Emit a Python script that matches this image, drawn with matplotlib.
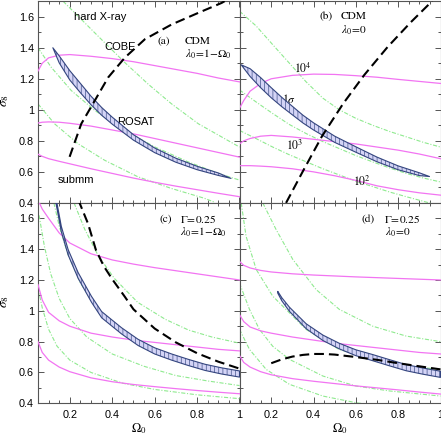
import matplotlib
matplotlib.use('Agg')
import matplotlib.pyplot as plt
import numpy as np
from matplotlib.ticker import MultipleLocator, FuncFormatter

plt.rcParams['font.family'] = ['Liberation Sans', 'DejaVu Sans']
plt.rcParams['mathtext.fontset'] = 'stix'
plt.rcParams['hatch.linewidth'] = 0.45
plt.rcParams['lines.scale_dashes'] = False

# ---------------- data ----------------
om_m = [0.05, 0.07, 0.1, 0.15, 0.2, 0.3, 0.4, 0.5, 0.6, 0.7, 0.8, 0.9, 1.0]

# panel (a) CDM, lambda0 = 1 - Omega0
a_mag1 = [1.25, 1.30, 1.335, 1.352, 1.356, 1.345, 1.33, 1.31, 1.285, 1.26, 1.235, 1.205, 1.18]
a_mag2 = [0.915, 0.92, 0.922, 0.92, 0.913, 0.895, 0.87, 0.845, 0.815, 0.785, 0.755, 0.725, 0.695]
a_mag3 = [0.714, 0.70, 0.685, 0.668, 0.652, 0.62, 0.59, 0.56, 0.533, 0.508, 0.485, 0.462, 0.44]
a_g1_x = [0.168, 0.254, 0.356, 0.459, 0.569, 0.68, 0.806, 0.916, 1.0]
a_g1_y = [1.70, 1.583, 1.444, 1.305, 1.166, 1.038, 0.91, 0.825, 0.76]
a_g2_x = [0.05, 0.113, 0.207, 0.318, 0.444, 0.6, 0.757, 0.9, 1.0]
a_g2_y = [1.40, 1.273, 1.124, 0.996, 0.878, 0.761, 0.665, 0.59, 0.547]
a_g3_x = [0.05, 0.128, 0.238, 0.364, 0.52, 0.677, 0.834, 0.88]
a_g3_y = [1.038, 0.91, 0.782, 0.675, 0.569, 0.494, 0.43, 0.406]
a_band_x = [0.12, 0.15, 0.2, 0.25, 0.3, 0.35, 0.4, 0.5, 0.6, 0.7, 0.8, 0.9, 0.96]
a_band_c = [1.40, 1.325, 1.222, 1.14, 1.06, 0.99, 0.93, 0.822, 0.739, 0.675, 0.625, 0.585, 0.558]
a_band_w = [0.0, 0.045, 0.06, 0.06, 0.055, 0.05, 0.045, 0.035, 0.03, 0.026, 0.022, 0.016, 0.0]
a_cobe_x = [0.199, 0.254, 0.318, 0.381, 0.46, 0.554, 0.68, 0.806, 0.916, 0.93]
a_cobe_y = [0.697, 0.91, 1.06, 1.209, 1.337, 1.455, 1.55, 1.625, 1.689, 1.70]

# panel (b) CDM, lambda0 = 0
b_mag1 = [1.01, 1.06, 1.12, 1.17, 1.20, 1.222, 1.23, 1.228, 1.22, 1.21, 1.196, 1.183, 1.17]
b_mag2 = [0.78, 0.80, 0.815, 0.83, 0.835, 0.825, 0.81, 0.795, 0.78, 0.76, 0.74, 0.715, 0.685]
b_mag3 = [0.64, 0.64, 0.64, 0.637, 0.633, 0.62, 0.60, 0.575, 0.545, 0.51, 0.485, 0.465, 0.45]
b_g_x = [0.05, 0.129, 0.207, 0.286, 0.365, 0.444, 0.522, 0.6, 0.68, 0.76, 0.838, 0.92, 1.0]
b_g1_y = [1.636, 1.54, 1.42, 1.30, 1.18, 1.075, 1.0, 0.945, 0.90, 0.86, 0.826, 0.79, 0.76]
b_g2_y = [1.128, 1.05, 0.976, 0.905, 0.847, 0.795, 0.75, 0.705, 0.664, 0.625, 0.59, 0.56, 0.535]
b_g3_y = [0.867, 0.814, 0.76, 0.71, 0.665, 0.62, 0.58, 0.54, 0.505, 0.47, 0.44, 0.41, 0.38]
b_band_x = [0.058, 0.1, 0.15, 0.2, 0.25, 0.3, 0.35, 0.4, 0.5, 0.6, 0.7, 0.8, 0.9, 0.948]
b_band_c = [1.29, 1.24, 1.175, 1.11, 1.05, 0.995, 0.94, 0.893, 0.81, 0.744, 0.68, 0.626, 0.585, 0.57]
b_band_w = [0.0, 0.05, 0.065, 0.065, 0.06, 0.055, 0.05, 0.046, 0.04, 0.035, 0.03, 0.025, 0.018, 0.0]
b_cobe_x = [0.27, 0.35, 0.44, 0.54, 0.64, 0.75, 0.86, 0.96]
b_cobe_y = [0.40, 0.605, 0.83, 1.04, 1.225, 1.405, 1.565, 1.70]

# panel (c) Gamma = 0.25, lambda0 = 1 - Omega0
c_mag1 = [1.72, 1.66, 1.60, 1.505, 1.44, 1.37, 1.33, 1.303, 1.28, 1.26, 1.24, 1.22, 1.20]
c_mag2 = [1.17, 1.07, 0.99, 0.935, 0.90, 0.855, 0.83, 0.81, 0.795, 0.78, 0.765, 0.75, 0.74]
c_mag3 = [0.80, 0.73, 0.68, 0.635, 0.605, 0.565, 0.54, 0.522, 0.508, 0.495, 0.483, 0.472, 0.462]
c_g1_x = [0.22, 0.27, 0.333, 0.41, 0.52, 0.65, 0.76, 0.87, 1.0]
c_g1_y = [1.70, 1.53, 1.36, 1.21, 1.055, 0.945, 0.875, 0.83, 0.79]
c_g2_x = [0.125, 0.15, 0.19, 0.25, 0.32, 0.42, 0.55, 0.7, 0.85, 1.0]
c_g2_y = [1.70, 1.55, 1.37, 1.18, 1.03, 0.88, 0.76, 0.68, 0.63, 0.59]
c_g3_x = [0.055, 0.08, 0.11, 0.15, 0.2, 0.28, 0.4, 0.55, 0.7, 0.85, 1.0]
c_g3_y = [1.62, 1.42, 1.24, 1.08, 0.95, 0.83, 0.72, 0.64, 0.58, 0.545, 0.515]
c_g4_x = [0.05, 0.07, 0.1, 0.14, 0.2, 0.3, 0.45, 0.6, 0.8, 1.0]
c_g4_y = [1.15, 1.02, 0.88, 0.77, 0.68, 0.6, 0.53, 0.49, 0.455, 0.43]
c_band_x = [0.13, 0.16, 0.192, 0.239, 0.302, 0.35, 0.444, 0.522, 0.6, 0.68, 0.759, 0.838, 0.916, 1.0]
c_band_c = [1.75, 1.53, 1.38, 1.23, 1.075, 0.975, 0.87, 0.795, 0.74, 0.70, 0.665, 0.633, 0.61, 0.59]
c_band_w = [0.035, 0.035, 0.035, 0.037, 0.038, 0.04, 0.04, 0.04, 0.04, 0.04, 0.04, 0.04, 0.04, 0.04]
c_cobe_x = [0.24, 0.286, 0.323, 0.36, 0.40, 0.46, 0.5, 0.6, 0.7, 0.8, 0.9, 1.0]
c_cobe_y = [1.72, 1.565, 1.395, 1.29, 1.205, 1.09, 1.01, 0.885, 0.795, 0.725, 0.67, 0.625]

# panel (d) Gamma = 0.25, lambda0 = 0
d_mag1 = [1.32, 1.295, 1.278, 1.262, 1.252, 1.24, 1.232, 1.226, 1.22, 1.215, 1.21, 1.205, 1.20]
d_mag2 = [0.975, 0.93, 0.895, 0.87, 0.855, 0.83, 0.81, 0.79, 0.775, 0.76, 0.745, 0.73, 0.72]
d_mag3 = [0.71, 0.665, 0.635, 0.605, 0.585, 0.56, 0.543, 0.528, 0.513, 0.5, 0.487, 0.473, 0.46]
d_g1_x = [0.16, 0.223, 0.302, 0.412, 0.522, 0.68, 0.838, 1.0]
d_g1_y = [1.70, 1.527, 1.333, 1.138, 1.009, 0.90, 0.836, 0.80]
d_g2_x = [0.058, 0.081, 0.129, 0.207, 0.286, 0.365, 0.52, 0.68, 0.838, 1.0]
d_g2_y = [1.70, 1.484, 1.268, 1.095, 0.987, 0.879, 0.75, 0.685, 0.642, 0.62]
d_g3_x = [0.05, 0.097, 0.144, 0.207, 0.286, 0.444, 0.6, 0.76, 1.0]
d_g3_y = [1.18, 1.01, 0.88, 0.77, 0.685, 0.577, 0.512, 0.48, 0.447]
d_g4_x = [0.05, 0.097, 0.176, 0.286, 0.444, 0.6, 0.7]
d_g4_y = [0.88, 0.75, 0.62, 0.523, 0.447, 0.404, 0.385]
d_band_x = [0.231, 0.25, 0.286, 0.365, 0.444, 0.522, 0.6, 0.68, 0.759, 0.838, 0.916, 1.0]
d_band_c = [1.12, 1.075, 1.01, 0.90, 0.825, 0.771, 0.728, 0.696, 0.663, 0.631, 0.609, 0.588]
d_band_w = [0.012, 0.02, 0.027, 0.032, 0.035, 0.036, 0.038, 0.04, 0.04, 0.04, 0.04, 0.04]
d_cobe_x = [0.2, 0.25, 0.3, 0.35, 0.4, 0.45, 0.5, 0.6, 0.7, 0.8, 0.9, 1.0]
d_cobe_y = [0.66, 0.685, 0.703, 0.714, 0.72, 0.72, 0.716, 0.70, 0.682, 0.66, 0.64, 0.62]

# ---------------- styles ----------------
MAG = '#f274f2'
GRN = '#8fea8f'
BAND_FC = '#d4d4f6'
BAND_EC = '#34457f'

W, H = 441.0, 436.0
fig = plt.figure(figsize=(W / 100, H / 100), dpi=100)


def add(x0, y0, x1, y1):
    return fig.add_axes([x0 / W, 1 - y1 / H, (x1 - x0) / W, (y1 - y0) / H])


ax_a = add(38, 1.2, 239.5, 202.9)
ax_b = add(239.5, 1.2, 440.5, 202.9)
ax_c = add(38, 202.9, 239.5, 403.3)
ax_d = add(239.5, 202.9, 440.5, 403.3)

fmt = FuncFormatter(lambda v, p: f'{v:g}')

for ax in (ax_a, ax_b, ax_c, ax_d):
    ax.set_xlim(0.05, 1.0)
    ax.set_ylim(0.4, 1.7)
    ax.xaxis.set_major_locator(MultipleLocator(0.2))
    ax.xaxis.set_minor_locator(MultipleLocator(0.05))
    ax.yaxis.set_major_locator(MultipleLocator(0.2))
    ax.yaxis.set_minor_locator(MultipleLocator(0.1))
    ax.xaxis.set_major_formatter(fmt)
    ax.yaxis.set_major_formatter(fmt)
    ax.tick_params(which='both', direction='in', top=True, right=True,
                   color='#555555', width=0.7, labelsize=7.8)
    ax.tick_params(which='major', length=4.5)
    ax.tick_params(which='minor', length=2.5)
    ax.tick_params(axis='y', pad=3)
    ax.tick_params(axis='x', pad=5)
    for s in ax.spines.values():
        s.set_color('#555555')
        s.set_linewidth(0.8)

for ax in (ax_a, ax_b):
    ax.tick_params(labelbottom=False)
for ax in (ax_b, ax_d):
    ax.tick_params(labelleft=False)


def green(ax, x, y):
    ax.plot(x, y, color=GRN, lw=0.8, ls=(0, (3, 1.2, 0.8, 1.2)), zorder=2)


def mag(ax, y):
    ax.plot(om_m, y, color=MAG, lw=0.9, zorder=3)


def band(ax, x, c, w):
    x = np.asarray(x); c = np.asarray(c); w = np.asarray(w)
    ax.fill_between(x, c - w / 2, c + w / 2, facecolor=BAND_FC, edgecolor=BAND_EC,
                    hatch='||||', linewidth=0.8, zorder=4)


def cobe(ax, x, y):
    ax.plot(x, y, color='black', lw=1.5, ls=(0, (7, 3.6)), zorder=5)


# panel (a)
green(ax_a, a_g1_x, a_g1_y); green(ax_a, a_g2_x, a_g2_y); green(ax_a, a_g3_x, a_g3_y)
for y in (a_mag1, a_mag2, a_mag3):
    mag(ax_a, y)
band(ax_a, a_band_x, a_band_c, a_band_w)
cobe(ax_a, a_cobe_x, a_cobe_y)

# panel (b)
for y in (b_g1_y, b_g2_y, b_g3_y):
    green(ax_b, b_g_x, y)
for y in (b_mag1, b_mag2, b_mag3):
    mag(ax_b, y)
band(ax_b, b_band_x, b_band_c, b_band_w)
cobe(ax_b, b_cobe_x, b_cobe_y)

# panel (c)
green(ax_c, c_g1_x, c_g1_y); green(ax_c, c_g2_x, c_g2_y)
green(ax_c, c_g3_x, c_g3_y); green(ax_c, c_g4_x, c_g4_y)
for y in (c_mag1, c_mag2, c_mag3):
    mag(ax_c, y)
band(ax_c, c_band_x, c_band_c, c_band_w)
cobe(ax_c, c_cobe_x, c_cobe_y)

# panel (d)
green(ax_d, d_g1_x, d_g1_y); green(ax_d, d_g2_x, d_g2_y)
green(ax_d, d_g3_x, d_g3_y); green(ax_d, d_g4_x, d_g4_y)
for y in (d_mag1, d_mag2, d_mag3):
    mag(ax_d, y)
band(ax_d, d_band_x, d_band_c, d_band_w)
cobe(ax_d, d_cobe_x, d_cobe_y)

# ---------------- texts ----------------
SER = 'STIXGeneral'
LS = 8.2
ax_a.text(0.612, 1.442, '(a)', family=SER, fontsize=LS, va='center')
ax_a.text(0.742, 1.442, 'CDM', family=SER, fontsize=LS, va='center')
ax_a.text(0.742, 1.356, r'$\lambda_0\!=\!1\!-\!\Omega_0$', family=SER, fontsize=LS, va='center')

ax_b.text(0.428, 1.603, '(b)', family=SER, fontsize=LS, va='center')
ax_b.text(0.53, 1.603, 'CDM', family=SER, fontsize=LS, va='center')
ax_b.text(0.53, 1.515, r'$\lambda_0\!=\!0$', family=SER, fontsize=LS, va='center')

ax_c.text(0.625, 1.597, '(c)', family=SER, fontsize=LS, va='center')
ax_c.text(0.72, 1.597, r'$\Gamma\!=\!0.25$', family=SER, fontsize=LS, va='center')
ax_c.text(0.72, 1.508, r'$\lambda_0\!=\!1\!-\!\Omega_0$', family=SER, fontsize=LS, va='center')

ax_d.text(0.625, 1.597, '(d)', family=SER, fontsize=LS, va='center')
ax_d.text(0.735, 1.597, r'$\Gamma\!=\!0.25$', family=SER, fontsize=LS, va='center')
ax_d.text(0.74, 1.508, r'$\lambda_0\!=\!0$', family=SER, fontsize=LS, va='center')

AS = 8
ax_a.text(0.3455, 1.595, 'hard X-ray', fontsize=AS, ha='center', va='center')
ax_a.text(0.436, 1.405, 'COBE', fontsize=AS, ha='center', va='center')
ax_a.text(0.511, 0.923, 'ROSAT', fontsize=AS, ha='center', va='center')
ax_a.text(0.227, 0.55, 'submm', fontsize=AS, ha='center', va='center')

ax_b.text(0.348, 1.263, r'$10^4$', family=SER, fontsize=8.4, ha='center', va='center')
ax_b.text(0.284, 1.069, r'$1\sigma$', family=SER, fontsize=8.4, ha='center', va='center')
ax_b.text(0.312, 0.766, r'$10^3$', family=SER, fontsize=8.4, ha='center', va='center')
ax_b.text(0.629, 0.534, r'$10^2$', family=SER, fontsize=8.4, ha='center', va='center')

fig.text(5 / W, 1 - 101 / H, r'$\sigma_8$', fontsize=9.5, rotation=90, ha='center', va='center')
fig.text(5 / W, 1 - 302 / H, r'$\sigma_8$', fontsize=9.5, rotation=90, ha='center', va='center')
fig.text(139 / W, 1 - 428.5 / H, r'$\Omega_0$', fontsize=9, ha='center', va='center')
fig.text(340 / W, 1 - 428.5 / H, r'$\Omega_0$', fontsize=9, ha='center', va='center')

fig.savefig('out.png', dpi=100)
